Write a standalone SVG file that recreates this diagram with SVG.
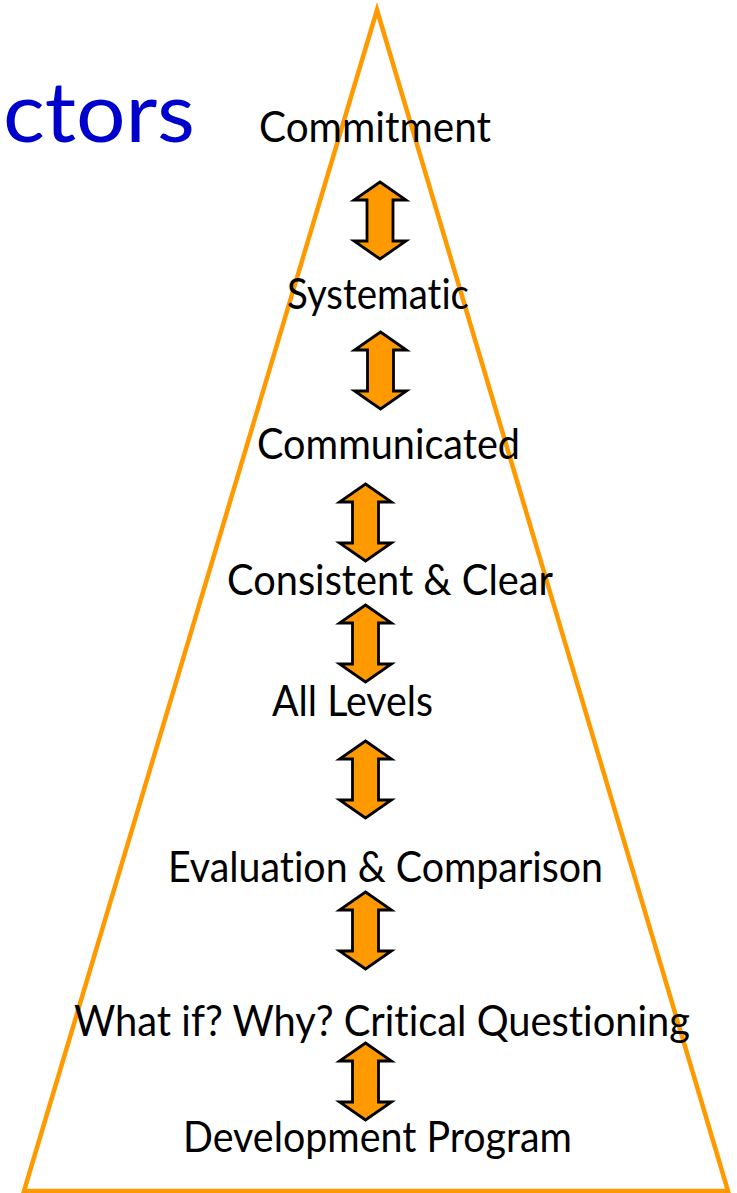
<svg xmlns="http://www.w3.org/2000/svg" width="737" height="1193" viewBox="0 0 737 1193">
  <style>
    .lbl { font-family: "Lato", "Liberation Sans", sans-serif; font-size: 42px; fill: #000000; font-variant-ligatures: none; font-feature-settings: "liga" 0, "clig" 0; }
    .title { font-family: "Lato", "Liberation Sans", sans-serif; font-size: 84px; fill: #0000CC; font-variant-ligatures: none; }
    .arrow { fill: #FF9900; stroke: #000000; stroke-width: 2.8; stroke-linejoin: miter; }
    .tri { fill: none; stroke: #FF9900; stroke-width: 4.5; stroke-linejoin: miter; }
  </style>
  <defs>
    <polygon id="dbl" points="0,0 26,18 13,18 13,59 26,59 0,77 -26,59 -13,59 -13,18 -26,18"/>
  </defs>
  <rect x="0" y="0" width="737" height="1193" fill="#ffffff"/>
  <g id="title">
    <text class="title" x="3" y="142" textLength="192" lengthAdjust="spacingAndGlyphs">ctors</text>
  </g>
  <g id="pyramid">
    <polygon class="tri" points="377,10 24,1191 728,1191"/>
  </g>
  <g id="connectors">
    <use href="#dbl" class="arrow" transform="translate(380,182)"/>
    <use href="#dbl" class="arrow" transform="translate(380.5,332)"/>
    <use href="#dbl" class="arrow" transform="translate(365.5,484)"/>
    <use href="#dbl" class="arrow" transform="translate(365.5,605)"/>
    <use href="#dbl" class="arrow" transform="translate(365.5,741)"/>
    <use href="#dbl" class="arrow" transform="translate(365.5,892)"/>
    <use href="#dbl" class="arrow" transform="translate(365.5,1043)"/>
  </g>
  <g id="n-commitment">
    <text class="lbl" x="259" y="142" textLength="232" lengthAdjust="spacingAndGlyphs">Commitment</text>
  </g>
  <g id="n-systematic">
    <text class="lbl" x="287" y="309" textLength="182" lengthAdjust="spacingAndGlyphs">Systematic</text>
  </g>
  <g id="n-communicated">
    <text class="lbl" x="257" y="459" textLength="263" lengthAdjust="spacingAndGlyphs">Communicated</text>
  </g>
  <g id="n-consistent">
    <text class="lbl" x="227" y="595" textLength="326" lengthAdjust="spacingAndGlyphs">Consistent &amp; Clear</text>
  </g>
  <g id="n-alllevels">
    <text class="lbl" x="272" y="716" textLength="161" lengthAdjust="spacingAndGlyphs">All Levels</text>
  </g>
  <g id="n-evaluation">
    <text class="lbl" x="168" y="882" textLength="435" lengthAdjust="spacingAndGlyphs">Evaluation &amp; Comparison</text>
  </g>
  <g id="n-whatif">
    <text class="lbl" x="74" y="1036" textLength="616" lengthAdjust="spacingAndGlyphs">What if? Why? Critical Questioning</text>
  </g>
  <g id="n-development">
    <text class="lbl" x="183" y="1152" textLength="389" lengthAdjust="spacingAndGlyphs">Development Program</text>
  </g>
</svg>
